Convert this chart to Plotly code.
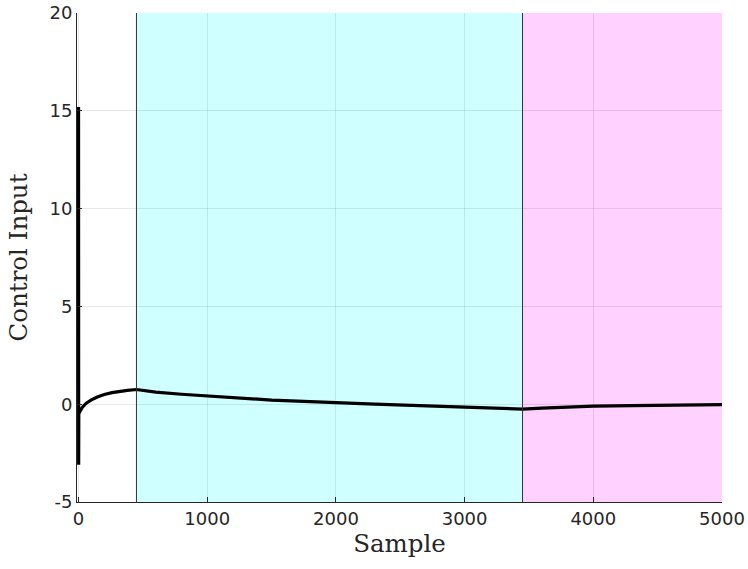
import plotly.graph_objects as go

# Control input trajectory (sample index, value)
samples = [0, 1, 2, 10, 30, 60, 100, 150, 200, 260, 320, 380, 450,
           600, 800, 1000, 1250, 1500, 1750, 2000, 2300, 2650, 3000,
           3250, 3450, 3600, 3800, 4000, 4300, 4600, 5000]
control = [15.2, -3.1, -0.5, -0.38, -0.15, 0.05, 0.22, 0.38, 0.5, 0.59,
           0.66, 0.71, 0.75, 0.62, 0.51, 0.42, 0.3, 0.21, 0.14, 0.07,
           0.0, -0.07, -0.16, -0.21, -0.25, -0.2, -0.14, -0.1, -0.07,
           -0.04, -0.02]

# Phase boundaries (sample index)
phase_edges = [450, 3450, 5000]
phase_colors = ["rgba(0,255,255,0.19)", "rgba(255,0,255,0.18)"]

x_ticks = [0, 1000, 2000, 3000, 4000, 5000]
x_labels = ["0", "1000", "2000", "3000", "4000", "5000"]
y_ticks = [-5, 0, 5, 10, 15, 20]
y_labels = ["-5", "0", "5", "10", "15", "20"]

fig = go.Figure()

shapes = []
for i, col in enumerate(phase_colors):
    shapes.append(dict(type="rect", xref="x", yref="paper",
                       x0=phase_edges[i], x1=phase_edges[i + 1], y0=0, y1=1,
                       fillcolor=col, line_width=0, layer="below"))
for xb in phase_edges[:2]:
    shapes.append(dict(type="line", xref="x", yref="paper",
                       x0=xb, x1=xb, y0=0, y1=1,
                       line=dict(color="#333333", width=1), layer="above"))

fig.add_trace(go.Scatter(x=samples, y=control, mode="lines",
                         line=dict(color="black", width=3.2),
                         showlegend=False))

axis_font = dict(family="DejaVu Sans", size=18, color="#262626")
title_font = dict(family="DejaVu Serif", size=24.5, color="#262626")

fig.update_layout(
    width=748, height=569,
    margin=dict(l=77, r=26, t=13, b=67),
    plot_bgcolor="white", paper_bgcolor="white",
    shapes=shapes,
    # small left pad so the full width of the initial spike stays visible
    xaxis=dict(range=[-12, 5000], tickvals=x_ticks, ticktext=x_labels,
               ticks="inside", ticklen=5, tickcolor="#262626",
               showgrid=True, gridcolor="rgba(0,0,0,0.09)", gridwidth=1,
               zeroline=False, showline=True, linecolor="#262626",
               linewidth=1, tickfont=axis_font, automargin=False,
               title=dict(text="Sample", font=title_font, standoff=7)),
    yaxis=dict(range=[-5, 20], tickvals=y_ticks, ticktext=y_labels,
               ticks="inside", ticklen=5, tickcolor="#262626",
               showgrid=True, gridcolor="rgba(0,0,0,0.09)", gridwidth=1,
               zeroline=False, showline=True, linecolor="#262626",
               linewidth=1, tickfont=axis_font, automargin=False,
               title=dict(text="Control Input", font=title_font, standoff=14)),
)

fig.write_html("out.html")
